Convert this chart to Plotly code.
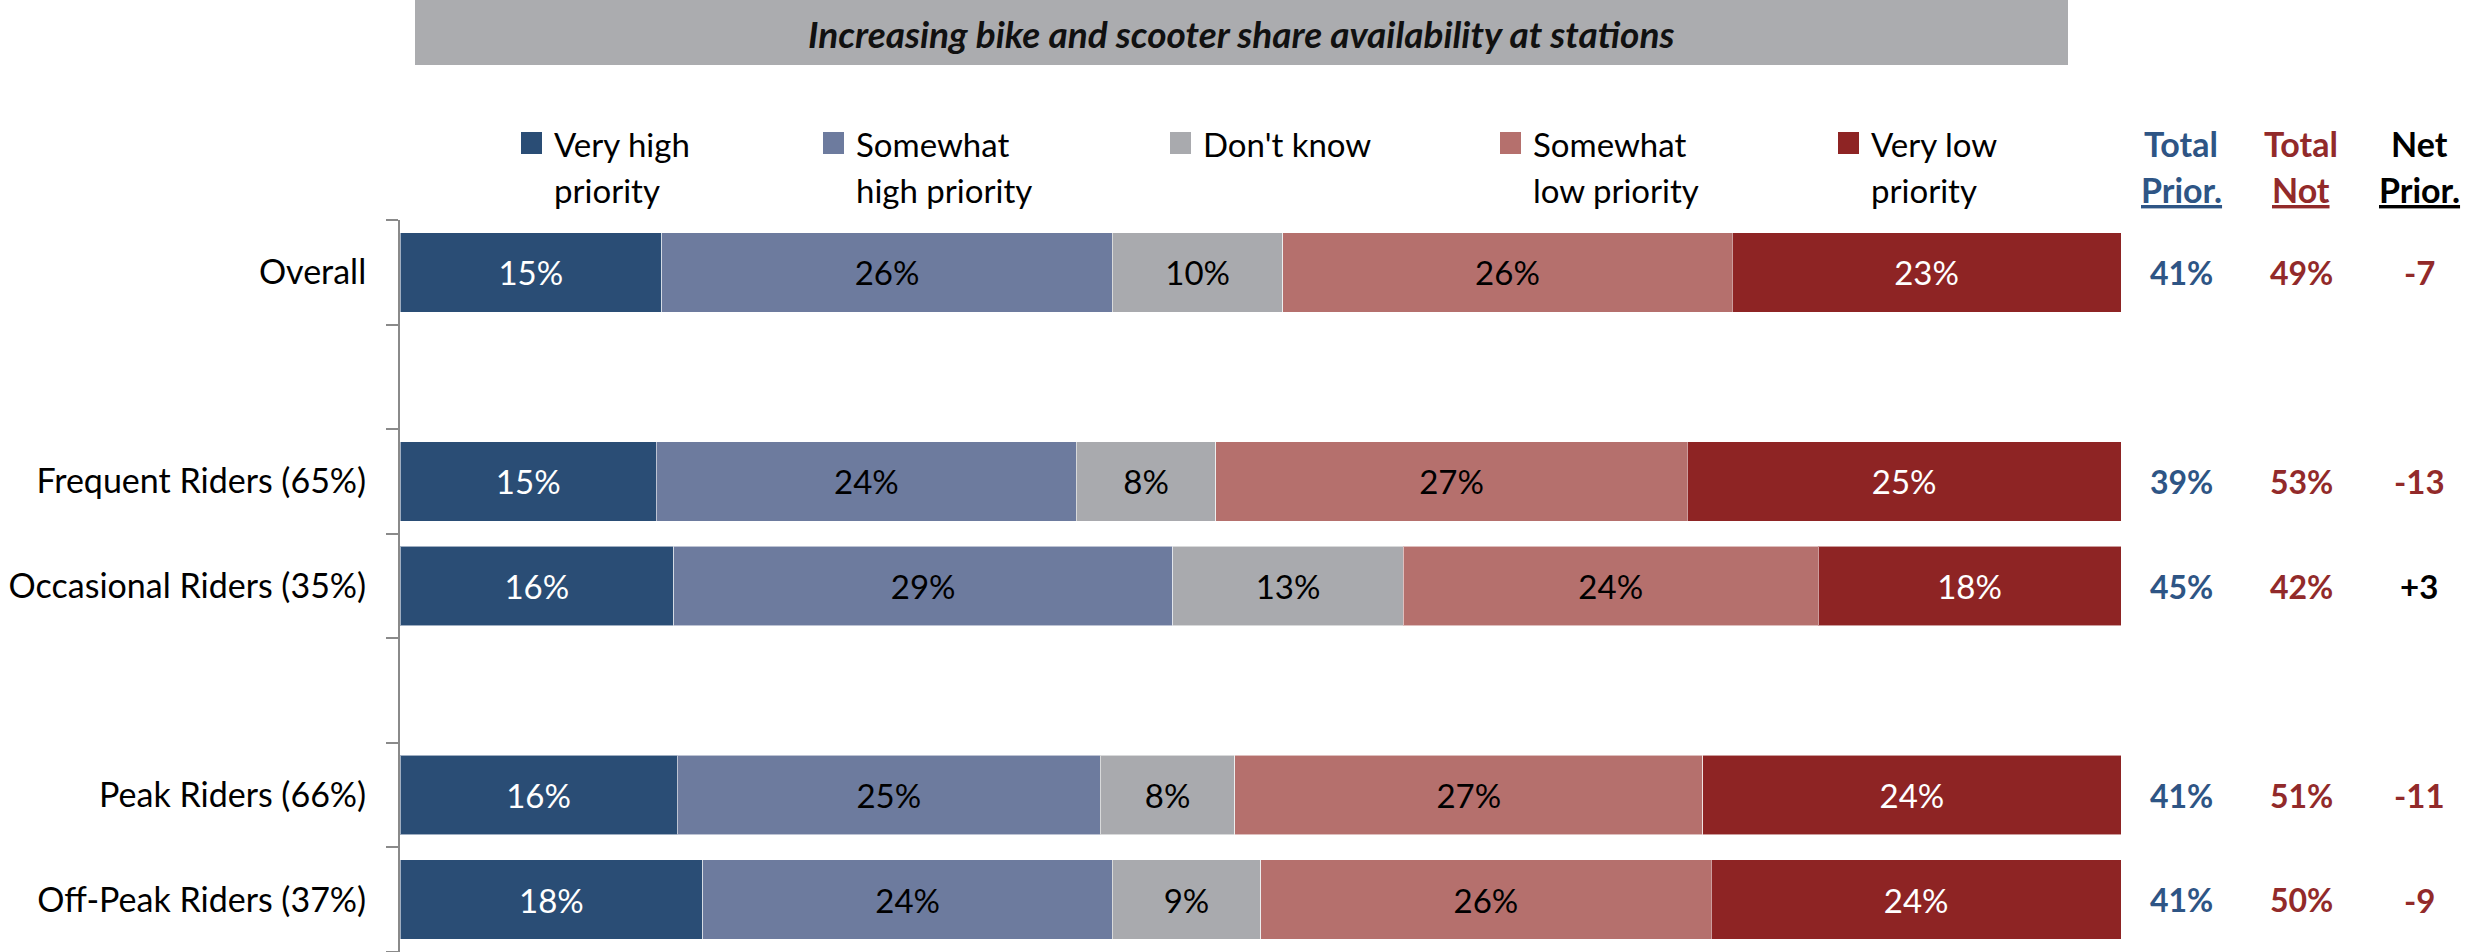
import plotly.graph_objects as go

# ---------------- data ----------------
categories = ["Overall", "Frequent Riders (65%)", "Occasional Riders (35%)",
              "Peak Riders (66%)", "Off-Peak Riders (37%)"]
series_names = ["Very high<br>priority", "Somewhat<br>high priority", "Don't know",
                "Somewhat<br>low priority", "Very low<br>priority"]
very_high = [15.2, 14.9, 15.9, 16.1, 17.6]
somewhat_high = [26.2, 24.4, 29.0, 24.6, 23.8]
dont_know = [9.9, 8.1, 13.4, 7.8, 8.6]
somewhat_low = [26.1, 27.4, 24.1, 27.2, 26.2]
very_low = [22.6, 25.2, 17.6, 24.3, 23.8]
total_prior = [41, 39, 45, 41, 41]
total_not = [49, 53, 42, 51, 50]
net_prior = [-7, -13, 3, -11, -9]
title_text = "Increasing bike and scooter share availability at stations"
col_headers = [("Total", "Prior."), ("Total", "Not"), ("Net", "Prior.")]

# ---------------- layout constants ----------------
row_slots = [0, 2, 3, 5, 6]          # vertical slots (gaps between groups)
colors = ["#2A4D75", "#6D7B9E", "#A9AAAE", "#B5706D", "#8E2424"]
label_colors = ["white", "black", "black", "black", "white"]
BLUE, RED = "#2E5585", "#922A2A"
FONT = "Lato, Calibri, Carlito, sans-serif"
W, H = 2483, 952
L, R, T, B = 400, 2121, 220, 952


def px(x):
    return (x - L) / (R - L)


def py(y):
    return (B - y) / (B - T)


fig = go.Figure()
series_vals = [very_high, somewhat_high, dont_know, somewhat_low, very_low]
for name, vals, col, lc in zip(series_names, series_vals, colors, label_colors):
    fig.add_trace(go.Bar(
        y=row_slots, x=vals, name=name, orientation="h",
        marker=dict(color=col, line=dict(color="rgba(255,255,255,0.55)", width=1)),
        width=0.76,
        texttemplate="%{x:.0f}%", textposition="inside", insidetextanchor="middle",
        textangle=0, constraintext="none",
        textfont=dict(family=FONT, size=33, color=lc),
        showlegend=False, hoverinfo="skip",
    ))

shapes = []
annotations = []

# title bar
shapes.append(dict(type="rect", xref="paper", yref="paper",
                   x0=px(415), x1=px(2068), y0=py(0), y1=py(65),
                   fillcolor="#ABACAF", line=dict(width=0), layer="below"))
annotations.append(dict(xref="paper", yref="paper", x=px(1241), y=py(33),
                        text="<b><i>" + title_text + "</i></b>", showarrow=False,
                        xanchor="center", yanchor="middle",
                        font=dict(family=FONT, size=37, color="#111111")))

# legend (manual)
sq_x = [521, 823, 1170, 1500, 1838]
for name, col, sx in zip(series_names, colors, sq_x):
    shapes.append(dict(type="rect", xref="paper", yref="paper",
                       x0=px(sx), x1=px(sx + 21), y0=py(132), y1=py(154),
                       fillcolor=col, line=dict(width=0)))
    lines = name.split("<br>")
    for i, ln in enumerate(lines):
        annotations.append(dict(xref="paper", yref="paper", x=px(sx + 31),
                                y=py(144 + 46 * i), text=ln, showarrow=False,
                                xanchor="left", yanchor="middle",
                                font=dict(family=FONT, size=33, color="black")))

# right columns
col_x = [2181, 2301, 2419]
col_colors = [BLUE, RED, "black"]
for (h1, h2), cx, cc in zip(col_headers, col_x, col_colors):
    annotations.append(dict(xref="paper", yref="paper", x=px(cx), y=py(143),
                            text="<b>" + h1 + "</b>", showarrow=False,
                            xanchor="center", yanchor="middle",
                            font=dict(family=FONT, size=34, color=cc)))
    annotations.append(dict(xref="paper", yref="paper", x=px(cx), y=py(189),
                            text="<b><u>" + h2 + "</u></b>", showarrow=False,
                            xanchor="center", yanchor="middle",
                            font=dict(family=FONT, size=34, color=cc)))

for slot, tp, tn, npv in zip(row_slots, total_prior, total_not, net_prior):
    annotations.append(dict(xref="paper", yref="y", x=px(col_x[0]), y=slot,
                            text=f"<b>{tp}%</b>", showarrow=False,
                            xanchor="center", yanchor="middle",
                            font=dict(family=FONT, size=32, color=BLUE)))
    annotations.append(dict(xref="paper", yref="y", x=px(col_x[1]), y=slot,
                            text=f"<b>{tn}%</b>", showarrow=False,
                            xanchor="center", yanchor="middle",
                            font=dict(family=FONT, size=32, color=RED)))
    ntxt = f"+{npv}" if npv > 0 else f"{npv}"
    annotations.append(dict(xref="paper", yref="y", x=px(col_x[2]), y=slot,
                            text=f"<b>{ntxt}</b>", showarrow=False,
                            xanchor="center", yanchor="middle",
                            font=dict(family=FONT, size=33,
                                      color="black" if npv > 0 else RED)))

fig.update_layout(
    barmode="stack",
    width=W, height=H,
    margin=dict(l=L, r=W - R, t=T, b=0, pad=0),
    paper_bgcolor="white", plot_bgcolor="white",
    shapes=shapes, annotations=annotations,
    showlegend=False,
    xaxis=dict(range=[0, 100], visible=False, fixedrange=True),
    yaxis=dict(range=[6.5, -0.5], tickmode="array", tickvals=row_slots,
               ticktext=categories, ticks="", showgrid=False, zeroline=False,
               showline=True, linecolor="#8A8A8A", linewidth=2,
               ticklabelstandoff=25,
               tickfont=dict(family=FONT, size=34, color="black"),
               minor=dict(tickmode="linear", tick0=-0.5, dtick=1, ticks="outside",
                          ticklen=12, tickwidth=2, tickcolor="#8A8A8A", showgrid=False),
               automargin=False),
)

fig.write_html("out.html", config={"displayModeBar": False},
               post_script="document.body.style.margin='0';")
